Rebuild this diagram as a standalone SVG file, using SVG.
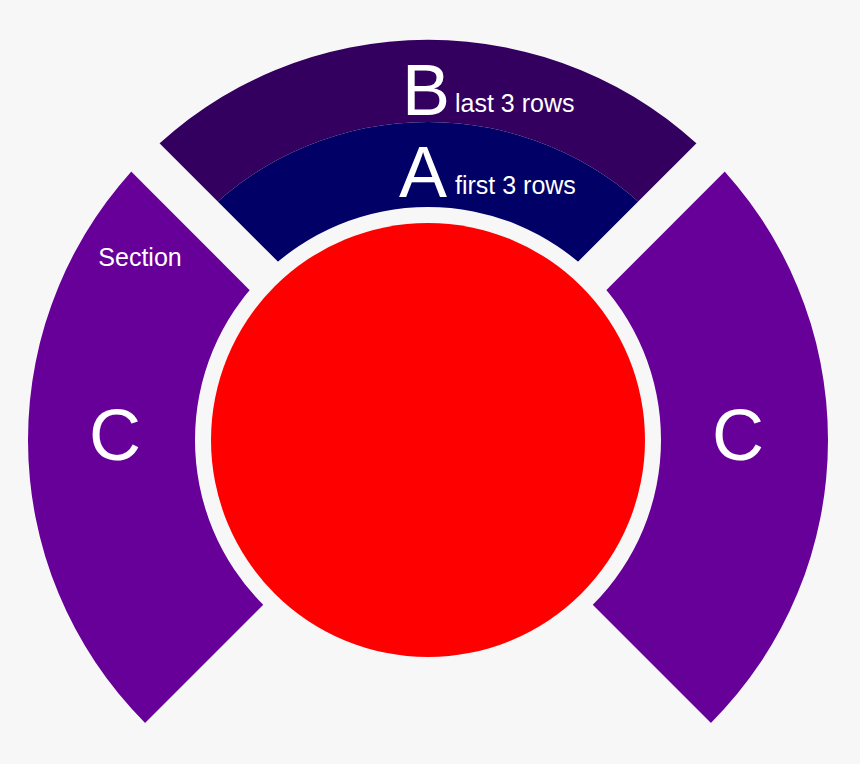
<svg xmlns="http://www.w3.org/2000/svg" width="860" height="764" viewBox="0 0 860 764">
<style>
text{fill:#fff;font-family:"Liberation Sans Narrow","Liberation Sans",sans-serif;font-stretch:condensed}
.big{font-size:72px}
.sm{font-size:25px}
</style>
<defs>
<clipPath id="cl"><polygon points="413.8,454.2 -400,-359.7 -400,1268"/></clipPath>
<clipPath id="cr"><polygon points="442.2,454.2 1260,-363.7 1260,1272"/></clipPath>
<clipPath id="ct"><polygon points="428,411.7 -400,-416.3 1256,-416.3"/></clipPath>
</defs>
<rect width="860" height="764" fill="#f7f7f7"/>
<g id="sectionB"><path clip-path="url(#ct)" fill="#330060" fill-rule="evenodd" d="M28,440a400,400 0 1,0 800,0a400,400 0 1,0 -800,0ZM110,440a318,318 0 1,0 636,0a318,318 0 1,0 -636,0Z"/>
<text x="426" y="115" class="big" text-anchor="middle">B</text><text x="455" y="112" class="sm">last 3 rows</text></g>
<g id="sectionA"><path clip-path="url(#ct)" fill="#000066" fill-rule="evenodd" d="M110,440a318,318 0 1,0 636,0a318,318 0 1,0 -636,0ZM195,440a233,233 0 1,0 466,0a233,233 0 1,0 -466,0Z"/>
<text x="423" y="197" class="big" text-anchor="middle">A</text><text x="455" y="194" class="sm">first 3 rows</text></g>
<g id="sectionCleft"><path clip-path="url(#cl)" fill="#660099" fill-rule="evenodd" d="M28,440a400,400 0 1,0 800,0a400,400 0 1,0 -800,0ZM195,440a233,233 0 1,0 466,0a233,233 0 1,0 -466,0Z"/>
<text x="140" y="266" class="sm" text-anchor="middle">Section</text>
<text x="115" y="460" class="big" text-anchor="middle">C</text></g>
<g id="sectionCright"><path clip-path="url(#cr)" fill="#660099" fill-rule="evenodd" d="M28,440a400,400 0 1,0 800,0a400,400 0 1,0 -800,0ZM195,440a233,233 0 1,0 466,0a233,233 0 1,0 -466,0Z"/>
<text x="738" y="460" class="big" text-anchor="middle">C</text></g>
<g id="stage"><circle cx="428" cy="440" r="217" fill="#ff0000"/></g>
<g id="connectors"/>
</svg>
